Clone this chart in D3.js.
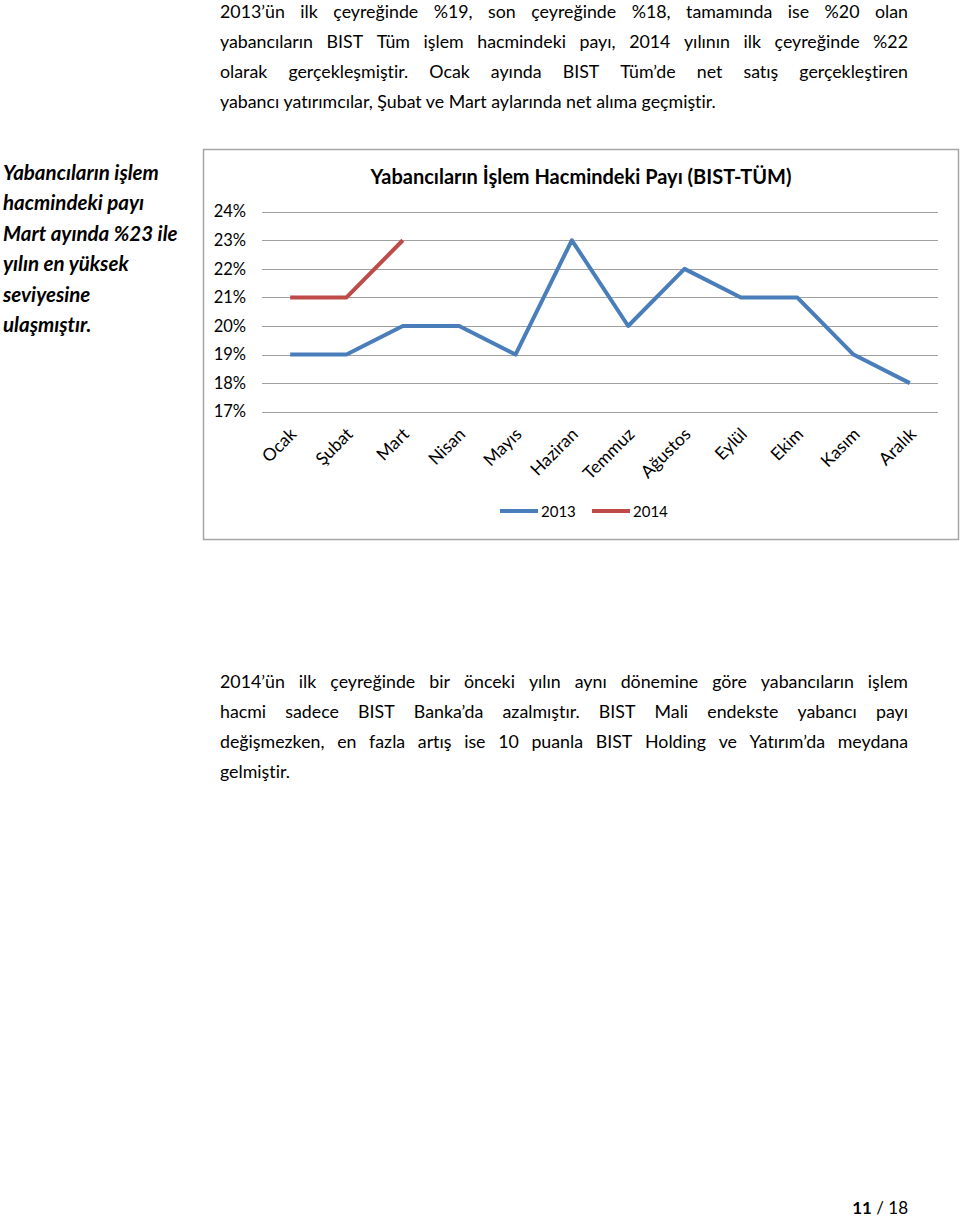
<!DOCTYPE html>
<html>
<head>
<meta charset="utf-8">
<script src="https://cdn.jsdelivr.net/npm/d3@7"></script>
<style>
  html, body { margin: 0; padding: 0; background: #fff; }
  svg { display: block; }
  text { font-family: Lato, "Open Sans", sans-serif; fill: #000; font-variant-ligatures: none; font-feature-settings: "liga" 0, "clig" 0; }
</style>
</head>
<body>
<svg id="page" width="960" height="1220"></svg>
<script>
// ---------- data ----------
const months = ["Ocak","Şubat","Mart","Nisan","Mayıs","Haziran","Temmuz","Ağustos","Eylül","Ekim","Kasım","Aralık"];
const values2013 = [19,19,20,20,19,23,20,22,21,21,19,18];
const values2014 = [21,21,23];
const seriesNames = ["2013","2014"];
const yTicks = [17,18,19,20,21,22,23,24];
const chartTitle = "Yabancıların İşlem Hacmindeki Payı (BIST-TÜM)";

const para1 = [
  "2013’ün ilk çeyreğinde %19, son çeyreğinde %18, tamamında ise %20 olan",
  "yabancıların BIST Tüm işlem hacmindeki payı, 2014 yılının ilk çeyreğinde %22",
  "olarak gerçekleşmiştir. Ocak ayında BIST Tüm’de net satış gerçekleştiren",
  "yabancı yatırımcılar, Şubat ve Mart aylarında net alıma geçmiştir."
];
const para2 = [
  "2014’ün ilk çeyreğinde bir önceki yılın aynı dönemine göre yabancıların işlem",
  "hacmi sadece BIST Banka’da azalmıştır. BIST Mali endekste yabancı payı",
  "değişmezken, en fazla artış ise 10 puanla BIST Holding ve Yatırım’da meydana",
  "gelmiştir."
];
const sideNote = [
  "Yabancıların işlem",
  "hacmindeki payı",
  "Mart ayında %23 ile",
  "yılın en yüksek",
  "seviyesine",
  "ulaşmıştır."
];

const svg = d3.select("#page");

// ---------- justified paragraphs ----------
function paragraph(lines, x0, x1, y0, lh, size) {
  const g = svg.append("g");
  const W = x1 - x0;
  lines.forEach((line, i) => {
    const y = y0 + i * lh;
    const last = i === lines.length - 1;
    if (last) {
      g.append("text").attr("x", x0).attr("y", y).attr("font-size", size).text(line);
      return;
    }
    const words = line.split(" ");
    const widths = words.map(w => {
      const t = g.append("text").attr("font-size", size).text(w);
      const wd = t.node().getComputedTextLength();
      t.remove();
      return wd;
    });
    const total = d3.sum(widths);
    const gap = (W - total) / (words.length - 1);
    let x = x0;
    words.forEach((w, j) => {
      g.append("text").attr("x", x).attr("y", y).attr("font-size", size).text(w);
      x += widths[j] + gap;
    });
  });
}
paragraph(para1, 220, 908, 18, 30, 17.8);
paragraph(para2, 220, 908, 688, 30, 17.8);

// ---------- side note ----------
svg.append("g").selectAll("text").data(sideNote).join("text")
  .attr("x", 3).attr("y", (d, i) => 180 + i * 30.4)
  .attr("font-size", 20.5).attr("font-weight", "bold").attr("font-style", "italic")
  .text(d => d);

// ---------- chart ----------
svg.append("rect")
  .attr("x", 203.5).attr("y", 149.5).attr("width", 755).attr("height", 390)
  .attr("fill", "#fff").attr("stroke", "#a6a6a6").attr("stroke-width", 1.5);

svg.append("text")
  .attr("x", 581).attr("y", 184).attr("text-anchor", "middle")
  .attr("font-size", 20).attr("font-weight", "bold")
  .text(chartTitle);

const x = d3.scaleBand().domain(months).range([262, 938]);
const y = d3.scaleLinear().domain([17, 24]).range([411.7, 211.7]);

// gridlines
svg.append("g").selectAll("line").data(yTicks).join("line")
  .attr("x1", 262).attr("x2", 938)
  .attr("y1", d => Math.round(y(d)) + 0.5).attr("y2", d => Math.round(y(d)) + 0.5)
  .attr("stroke", "#a0a0a0").attr("stroke-width", 1);

// y axis labels
const yAxis = d3.axisLeft(y).tickValues(yTicks).tickFormat(d => d + "%").tickSize(0).tickPadding(0);
const yg = svg.append("g").attr("transform", "translate(246,0)").call(yAxis);
yg.select(".domain").remove();
yg.selectAll("text").attr("font-size", 16.5).attr("font-family", "Lato, sans-serif").attr("fill", "#000");

// x axis labels
const xAxis = d3.axisBottom(x).tickSize(0).tickPadding(0);
const xg = svg.append("g").call(xAxis);
xg.select(".domain").remove();
xg.selectAll(".tick").attr("transform", d => `translate(${x(d) + x.bandwidth() / 2 + 3},431)`);
xg.selectAll("text")
  .attr("y", 0).attr("x", 0).attr("dy", "0.35em")
  .attr("text-anchor", "end")
  .attr("transform", "rotate(-45)")
  .attr("font-size", 17.5).attr("font-family", "Lato, sans-serif").attr("fill", "#000");

const line = d3.line()
  .x((d, i) => x(months[i]) + x.bandwidth() / 2)
  .y(d => y(d));

const colors = { "2013": "#4a7ebb", "2014": "#be4b48" };
svg.append("path").datum(values2013)
  .attr("d", line).attr("fill", "none")
  .attr("stroke", colors["2013"]).attr("stroke-width", 4).attr("stroke-linejoin", "round");
svg.append("path").datum(values2014)
  .attr("d", line).attr("fill", "none")
  .attr("stroke", colors["2014"]).attr("stroke-width", 4).attr("stroke-linejoin", "round");

// legend
const legend = svg.append("g");
const legendX = [500, 592];
seriesNames.forEach((s, i) => {
  legend.append("line")
    .attr("x1", legendX[i]).attr("x2", legendX[i] + 38)
    .attr("y1", 511).attr("y2", 511)
    .attr("stroke", colors[s]).attr("stroke-width", 4);
  legend.append("text")
    .attr("x", legendX[i] + 41).attr("y", 517)
    .attr("font-size", 15).text(s);
});

// footer
const foot = svg.append("text").attr("x", 908).attr("y", 1214).attr("text-anchor", "end").attr("font-size", 17);
foot.append("tspan").attr("font-weight", "bold").text("11");
foot.append("tspan").text(" / 18");
</script>
</body>
</html>
